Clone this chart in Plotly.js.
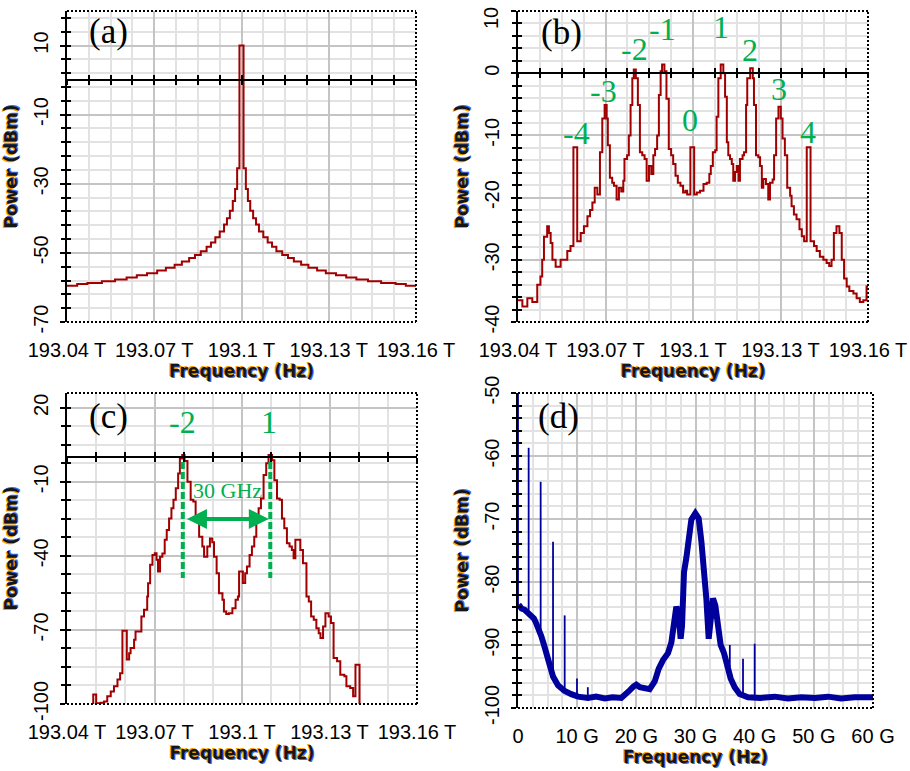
<!DOCTYPE html>
<html><head><meta charset="utf-8">
<script src="https://cdn.plot.ly/plotly-3.0.1.min.js"></script>
<style>html,body{margin:0;padding:0;background:#fff}#chart{width:910px;height:771px}</style>
</head><body><div id="chart"></div>
<script>
// ---------------- DATA ----------------
// (a) single-tone laser spectrum, frequency in THz, power in dBm
const freqA = [193.040,193.0435,193.047,193.052,193.0565,193.0605,193.064,193.0675,193.071,193.074,193.077,193.0795,193.082,193.084,193.086,193.088,193.0895,193.091,193.0925,193.094,193.095,193.096,193.097,193.0978,193.0985,193.0993,193.1007,193.1015,193.1022,193.103,193.104,193.105,193.106,193.1075,193.109,193.1105,193.112,193.114,193.116,193.118,193.1205,193.123,193.126,193.129,193.1325,193.136,193.1395,193.1435,193.148,193.153,193.1565,193.16];
const powA  = [-59.5,-59,-58.7,-58.2,-57.7,-57.1,-56.5,-55.9,-55.1,-54.3,-53.4,-52.5,-51.5,-50.6,-49.5,-48.2,-47,-45.5,-43.8,-41.8,-40,-37.8,-35,-31.5,-25.5,10,-25.5,-31.5,-35,-37.8,-40,-41.8,-43.8,-45.5,-47,-48.2,-49.5,-50.6,-51.5,-52.5,-53.4,-54.3,-55.1,-55.9,-56.5,-57.1,-57.7,-58.2,-58.7,-59,-59.5,-59.5];

// (b) optical frequency comb
const freqB = [193.0400,193.0415,193.0432,193.0449,193.0466,193.0477,193.0483,193.0489,193.0500,193.0506,193.0512,193.0518,193.0529,193.0546,193.0569,193.0580,193.0590,193.0603,193.0615,193.0626,193.0638,193.0647,193.0655,193.0663,193.0672,193.0681,193.0689,193.0697,193.0704,193.0708,193.0715,193.0723,193.0729,193.0738,193.0746,193.0754,193.0761,193.0765,193.0774,193.0780,193.0786,193.0792,193.0797,193.0804,193.0811,193.0818,193.0826,193.0834,193.0841,193.0849,193.0857,193.0864,193.0870,193.0877,193.0883,193.0889,193.0894,193.0902,193.0909,193.0917,193.0925,193.0932,193.0940,193.0948,193.0957,193.0966,193.0974,193.0980,193.0991,193.1004,193.1013,193.1024,193.1036,193.1047,193.1056,193.1061,193.1068,193.1076,193.1081,193.1087,193.1095,193.1104,193.1110,193.1116,193.1121,193.1127,193.1133,193.1138,193.1144,193.1150,193.1156,193.1161,193.1170,193.1175,193.1182,193.1186,193.1196,193.1205,193.1209,193.1216,193.1224,193.1230,193.1236,193.1241,193.1250,193.1258,193.1264,193.1273,193.1278,193.1285,193.1293,193.1301,193.1307,193.1315,193.1323,193.1333,193.1338,193.1346,193.1355,193.1365,193.1373,193.1381,193.1390,193.1403,193.1415,193.1424,193.1435,193.1447,193.1458,193.1467,193.1475,193.1483,193.1492,193.1502,193.1510,193.1518,193.1527,193.1536,193.1550,193.1561,193.1572,193.1584,193.1595,193.1600];
const powB  = [-36.5,-37.5,-36.2,-36.8,-34.0,-32.7,-30.0,-26.3,-24.6,-25.7,-27.3,-30.0,-31.1,-30.0,-28.6,-27.8,-11.9,-27.0,-25.7,-24.6,-23.0,-22.0,-20.8,-18.4,-19.5,-12.7,-7.3,-5.1,-7.3,-11.6,-16.8,-17.6,-18.1,-20.3,-18.4,-19.0,-17.3,-13.8,-13.2,-10.0,-5.1,-0.8,0.6,-0.8,-5.1,-12.7,-13.2,-13.8,-17.3,-14.9,-16.2,-13.2,-12.2,-10.0,-3.5,0.3,1.4,0.3,-4.1,-12.2,-13.2,-14.6,-16.5,-17.6,-18.1,-19.2,-18.9,-19.5,-11.9,-19.5,-19.2,-18.9,-17.8,-17.6,-16.2,-14.9,-12.7,-12.4,-7.0,-0.8,1.4,0.0,-3.8,-11.1,-13.2,-13.8,-14.6,-17.3,-15.9,-14.9,-17.3,-13.8,-13.2,-12.7,-5.1,-0.8,0.8,-0.8,-5.1,-13.2,-13.5,-14.9,-18.4,-17.0,-17.8,-20.3,-17.6,-17.1,-13.2,-7.3,-5.4,-7.3,-10.5,-13.2,-18.4,-19.7,-21.4,-22.7,-23.5,-25.1,-26.2,-27.0,-11.9,-27.0,-27.8,-28.6,-29.5,-30.0,-30.5,-31.0,-30.0,-25.7,-24.6,-25.7,-30.0,-33.0,-34.3,-35.0,-35.4,-36.2,-36.8,-36.5,-34.3,-34.3];
const orderLabels = ['-4','-3','-2','-1','0','1','2','3','4'];

// (c) filtered sidebands -2 and +1
const freqC = [193.0487,193.0490,193.0500,193.0515,193.0527,193.0538,193.0550,193.0561,193.0573,193.0582,193.0590,193.0605,193.0613,193.0618,193.0630,193.0635,193.0655,193.0664,193.0675,193.0678,193.0685,193.0693,193.0701,193.0707,193.0712,193.0719,193.0727,193.0735,193.0742,193.0750,193.0758,193.0765,193.0773,193.0781,193.0787,193.0795,193.0803,193.0813,193.0824,193.0833,193.0841,193.0853,193.0864,193.0870,193.0881,193.0890,193.0898,193.0904,193.0913,193.0921,193.0933,193.0938,193.0946,193.0955,193.0967,193.0978,193.0986,193.0990,193.1003,193.1011,193.1017,193.1026,193.1034,193.1042,193.1049,193.1057,193.1065,193.1074,193.1083,193.1091,193.1103,193.1111,193.1120,193.1129,193.1137,193.1145,193.1154,193.1163,193.1171,193.1177,193.1183,193.1194,193.1200,193.1209,193.1221,193.1229,193.1237,193.1246,193.1255,193.1263,193.1269,193.1278,193.1286,193.1297,193.1305,193.1314,193.1326,193.1337,193.1351,193.1358,193.1371,193.1381,193.1389,193.1403];
const powC  = [-99.8,-96.2,-99.7,-99.5,-99.0,-96.9,-94.9,-92.8,-90.1,-87.5,-70.3,-82.0,-79.4,-77.3,-74.0,-70.6,-64.5,-61.8,-56.4,-51.1,-43.6,-39.6,-38.9,-41.6,-46.3,-40.3,-39.0,-33.5,-29.5,-24.8,-20.7,-17.3,-12.6,-6.6,-0.5,0.9,-1.5,-10.0,-17.3,-18.0,-25.4,-32.2,-36.2,-40.3,-36.2,-32.9,-34.5,-40.3,-47.0,-55.1,-57.8,-62.5,-63.5,-63.2,-61.2,-57.8,-56.4,-46.3,-51.0,-47.0,-44.3,-39.6,-36.2,-32.2,-25.4,-20.7,-16.7,-7.2,-2.5,0.9,-1.2,-9.3,-16.7,-17.3,-24.8,-28.8,-34.9,-36.2,-37.6,-41.0,-33.5,-33.5,-37.6,-43.0,-56.4,-58.5,-64.5,-65.9,-69.3,-71.3,-73.3,-68.6,-63.2,-64.5,-67.2,-81.4,-82.7,-88.1,-88.8,-92.8,-93.5,-96.9,-84.1,-100.0];
const sepLabel = '30 GHz';

// (d) electrical spectrum, frequency in GHz
const freqD = [0.11,0.6,1.13,1.7,2.25,2.7,3.1,3.5,3.94,4.4,4.79,5.35,5.92,6.76,7.89,9.01,10.14,11.83,13.2,14.65,16.0,17.46,18.03,18.87,19.5,20.0,20.6,21.13,22.25,23.1,23.77,24.51,25.35,25.92,26.37,26.76,27.15,27.49,27.72,28.06,28.45,28.85,29.3,29.97,30.54,31.0,31.44,31.83,32.23,32.56,32.96,33.35,33.8,34.25,34.82,35.38,35.94,36.62,37.46,38.87,41.0,43.38,45.6,47.89,50.2,52.39,54.6,56.9,58.5,60];
const powD  = [-83.6,-84.2,-84.4,-85.0,-85.5,-85.8,-86.6,-87.4,-88.6,-90.0,-91.3,-93.4,-95.0,-96.4,-97.3,-97.8,-98.2,-98.4,-98.2,-98.5,-98.3,-98.4,-98.0,-97.2,-96.6,-96.3,-96.7,-96.8,-97.0,-95.8,-93.8,-92.4,-91.3,-89.6,-85.3,-83.9,-85.3,-89.0,-87.0,-78.4,-76.2,-72.5,-70.1,-69.1,-69.9,-73.6,-77.3,-82.6,-89.0,-84.7,-82.6,-83.7,-86.9,-90.0,-91.3,-93.4,-95.3,-96.7,-97.8,-98.3,-98.4,-98.2,-98.5,-98.3,-98.4,-98.2,-98.5,-98.3,-98.4,-98.3];
const spikeFreqD = [0,1.8,3.83,5.92,7.89,9.97,11.8,34.9,35.8,38.03,40.0];
const spikeBaseD = [-84,-84.5,-87.6,-94.6,-96.9,-97.9,-98.1,-91.0,-93.5,-97.8,-98.0];
const spikeTopD  = [-50,-58.7,-64.1,-73.6,-85.3,-95.3,-96.7,-90.6,-90.0,-92.2,-89.8];

const thzTicks = [193.04,193.07,193.1,193.13,193.16];
const thzText  = ['193.04 T','193.07 T','193.1 T','193.13 T','193.16 T'];
const ghzTicks = [0,10,20,30,40,50,60];
const ghzText  = ['0','10 G','20 G','30 G','40 G','50 G','60 G'];

// ---------------- LAYOUT ----------------
const W=910,H=771;
const RED='#a00000', BLUE='#00009c', GREEN='#00b050';
const MAJ='#c4c4c4', MIN='#e2e2e2';
const tickFont={family:'"Liberation Sans", Arial, sans-serif', size:20, color:'#000'};
const titleFont={family:'"DejaVu Sans", Verdana, sans-serif', size:17, weight:'bold', color:'#151515', shadow:'-1px -1px 0px #f5a300, 1px 1px 0px #3d6cf0'};
const serif='"Liberation Serif", "Times New Roman", serif';

const P = {
  a:{x:[67,416], y:[11,322], xr:[193.04-1e-6,193.16+1e-6], yr:[-70.001,20], yt:[-70,-50,-30,-10,10], ymd:4, y0:-70, xmd:0.0075},
  b:{x:[518,868], y:[11,322], xr:[193.04-1e-6,193.16+1e-6], yr:[-40.001,10.001], yt:[-40,-30,-20,-10,0,10], ymd:2, y0:-40, xmd:0.0075, hideTop:true},
  c:{x:[67,417], y:[393,704], xr:[193.04-1e-6,193.16+1e-6], yr:[-100.001,26], yt:[-100,-70,-40,-10,20], ymd:7.5, y0:-100, xmd:0.01},
  d:{x:[518,873], y:[393,708], xr:[-0.0001,60.0001], yr:[-100.001,-49.999], yt:[-100,-90,-80,-70,-60,-50], ymd:2, y0:-100, xmd:2.5}
};
function xd(p){return [p[0]/W, p[1]/W];}
function yd(p){return [1-p[1]/H, 1-p[0]/H];}

function mkX(p, tv, tt, tick0){
  return {domain:xd(p.x), range:p.xr, tickmode:'array', tickvals:tv, ticktext:tt, tickfont:tickFont,
    ticks:'', showline:false, showgrid:true, gridcolor:MAJ, gridwidth:2, zeroline:false, ticklabelstandoff:14,
    ticklabeloverflow:'allow',
    minor:{tick0:tick0, dtick:p.xmd, showgrid:true, gridcolor:MIN, gridwidth:2, ticks:''},
    title:{text:'Frequency (Hz)', font:titleFont, standoff:4}, fixedrange:true};
}
function mkY(p, anchor){
  const tt = p.yt.map((v,i)=> (p.hideTop && i===p.yt.length-1) ? ' ' : String(v));
  return {domain:yd(p.y), range:p.yr, anchor:anchor, tickmode:'array', tickvals:p.yt, ticktext:tt, tickangle:-90,
    tickfont:tickFont, ticks:'outside', ticklen:5, tickwidth:2, tickcolor:'#000', showline:true, linecolor:'#000', linewidth:2,
    showgrid:true, gridcolor:MAJ, gridwidth:2, zeroline:false, ticklabelstandoff:4, ticklabeloverflow:'allow',
    minor:{tick0:p.y0, dtick:p.ymd, showgrid:true, gridcolor:MIN, gridwidth:2, ticks:'outside', ticklen:4, tickwidth:2, tickcolor:'#000'},
    title:{text:'Power (dBm)', font:titleFont, standoff:8}, fixedrange:true};
}
function zeroAx(base, p, dir){
  const yd0 = yd(p.y);
  const frac = yd0[0] + (0-p.yr[0])/(p.yr[1]-p.yr[0])*(yd0[1]-yd0[0]);
  return {overlaying:base, anchor:'free', position:frac, range:p.xr, side:'bottom', showline:true, linecolor:'#000', linewidth:2,
    ticks:dir, ticklen:4, tickwidth:2, tickcolor:'#000', tickmode:'linear', tick0:193.04, dtick:p.xmd,
    showticklabels:false, showgrid:false, zeroline:false, fixedrange:true};
}
function yIn(base, anchorX, p){
  return {overlaying:base, anchor:anchorX, side:'left', range:p.yr, showline:false, ticks:'inside', ticklen:4, tickwidth:2,
    tickcolor:'#000', tickmode:'linear', tick0:p.y0, dtick:p.ymd, showticklabels:false, showgrid:false, zeroline:false, fixedrange:true};
}

const layout = {
  width:W, height:H, margin:{l:0,r:0,t:0,b:0}, paper_bgcolor:'#fff', plot_bgcolor:'#fff', showlegend:false,
  xaxis: Object.assign(mkX(P.a, thzTicks, thzText, 193.04), {anchor:'y'}),
  yaxis: mkY(P.a,'x'),
  xaxis2: Object.assign(mkX(P.b, thzTicks, thzText, 193.04), {anchor:'y2'}),
  yaxis2: mkY(P.b,'x2'),
  xaxis3: Object.assign(mkX(P.c, thzTicks, thzText, 193.04), {anchor:'y3'}),
  yaxis3: mkY(P.c,'x3'),
  xaxis4: Object.assign(mkX(P.d, ghzTicks, ghzText, 0), {anchor:'y4'}),
  yaxis4: Object.assign(mkY(P.d,'x4'), {layer:'below traces'}),
  xaxis5: zeroAx('x', P.a, 'outside'), xaxis6: zeroAx('x', P.a, 'inside'),
  xaxis7: zeroAx('x2', P.b, 'outside'), xaxis8: zeroAx('x2', P.b, 'inside'),
  xaxis9: zeroAx('x3', P.c, 'outside'), xaxis10: zeroAx('x3', P.c, 'inside'),
  yaxis5: yIn('y','x',P.a), yaxis6: yIn('y2','x2',P.b), yaxis7: yIn('y3','x3',P.c), yaxis8: yIn('y4','x4',P.d),
  shapes: [], annotations: []
};

// top tick label of (b), kept inside the picture as in the original software
layout.annotations.push({text:String(P.b.yt[P.b.yt.length-1]), xref:'paper', yref:'paper', x:491/W, y:1-18/H,
  xanchor:'center', yanchor:'middle', textangle:-90, showarrow:false, font:tickFont});

// dotted frame (top, right, bottom)
[['x','y'],['x2','y2'],['x3','y3'],['x4','y4']].forEach(([xa,ya])=>{
  const ln={color:'#000', width:2, dash:'2px,2px'};
  layout.shapes.push({type:'line', xref:xa+' domain', yref:ya+' domain', x0:0,x1:1,y0:1,y1:1, line:ln});
  layout.shapes.push({type:'line', xref:xa+' domain', yref:ya+' domain', x0:1,x1:1,y0:0,y1:1, line:ln});
  layout.shapes.push({type:'line', xref:xa+' domain', yref:ya+' domain', x0:0,x1:1,y0:0,y1:0, line:ln});
});

// panel letters
[['(a)',108,32],['(b)',561,33],['(c)',108,416],['(d)',558,416]].forEach(([t,x,y])=>{
  layout.annotations.push({text:t, xref:'paper', yref:'paper', x:x/W, y:1-y/H, xanchor:'center', yanchor:'middle',
    showarrow:false, font:{family:serif, size:35, color:'#000'}});
});

// comb order labels in (b)
const labelPosB = [[193.0600,-9.6],[193.0693,-2.8],[193.0799,3.9],[193.0895,7.1],[193.0991,-7.5],[193.1097,7.5],[193.1196,3.7],[193.1296,-2.6],[193.1395,-9.4]];
orderLabels.forEach((t,i)=>{
  layout.annotations.push({text:t, xref:'x2', yref:'y2', x:labelPosB[i][0], y:labelPosB[i][1], xanchor:'center', yanchor:'middle',
    showarrow:false, font:{family:serif, size:32, color:GREEN}});
});
// (c) labels
layout.annotations.push({text:'-2', xref:'x3', yref:'y3', x:193.0795, y:14.2, showarrow:false, xanchor:'center', yanchor:'middle', font:{family:serif, size:32, color:GREEN}});
layout.annotations.push({text:'1', xref:'x3', yref:'y3', x:193.1094, y:14.2, showarrow:false, xanchor:'center', yanchor:'middle', font:{family:serif, size:32, color:GREEN}});
layout.annotations.push({text:sepLabel, xref:'x3', yref:'y3', x:193.0950, y:-13.7, showarrow:false, xanchor:'center', yanchor:'middle', font:{family:serif, size:22, color:GREEN}});
layout.annotations.push({text:'', xref:'x3', yref:'y3', x:193.1092, y:-25, axref:'x3', ayref:'y3', ax:193.0806, ay:-25,
  showarrow:true, arrowside:'end+start', arrowhead:2, startarrowhead:2, arrowsize:1, startarrowsize:1, arrowwidth:4, arrowcolor:GREEN});
[193.0797,193.1097].forEach(f=>{
  layout.shapes.push({type:'line', xref:'x3', yref:'y3', x0:f, x1:f, y0:-2, y1:-49, line:{color:GREEN, width:4, dash:'7px,3px'}});
});

// ---------------- TRACES ----------------
const spikeX=[], spikeY=[];
spikeFreqD.forEach((f,i)=>{ spikeX.push(f,f,null); spikeY.push(spikeBaseD[i], spikeTopD[i], null); });

const traces = [
  {x:freqA, y:powA, xaxis:'x', yaxis:'y', mode:'lines', line:{color:RED, width:2, shape:'hv'}},
  {x:freqB, y:powB, xaxis:'x2', yaxis:'y2', mode:'lines', line:{color:RED, width:2, shape:'hv'}},
  {x:freqC, y:powC, xaxis:'x3', yaxis:'y3', mode:'lines', line:{color:RED, width:2, shape:'hv'}},
  {x:spikeX, y:spikeY, xaxis:'x4', yaxis:'y4', mode:'lines', line:{color:BLUE, width:1.8}, connectgaps:false},
  {x:freqD, y:powD, xaxis:'x4', yaxis:'y4', mode:'lines', line:{color:BLUE, width:6}},
  // carriers for the overlay tick axes
  {x:[], y:[], xaxis:'x5', yaxis:'y', mode:'lines'}, {x:[], y:[], xaxis:'x6', yaxis:'y', mode:'lines'},
  {x:[], y:[], xaxis:'x7', yaxis:'y2', mode:'lines'}, {x:[], y:[], xaxis:'x8', yaxis:'y2', mode:'lines'},
  {x:[], y:[], xaxis:'x9', yaxis:'y3', mode:'lines'}, {x:[], y:[], xaxis:'x10', yaxis:'y3', mode:'lines'},
  {x:[], y:[], xaxis:'x', yaxis:'y5', mode:'lines'}, {x:[], y:[], xaxis:'x2', yaxis:'y6', mode:'lines'},
  {x:[], y:[], xaxis:'x3', yaxis:'y7', mode:'lines'}, {x:[], y:[], xaxis:'x4', yaxis:'y8', mode:'lines'}
];
traces.forEach(t=>{t.hoverinfo='skip'; t.showlegend=false;});

Plotly.newPlot('chart', traces, layout, {staticPlot:true, displayModeBar:false});
</script></body></html>
